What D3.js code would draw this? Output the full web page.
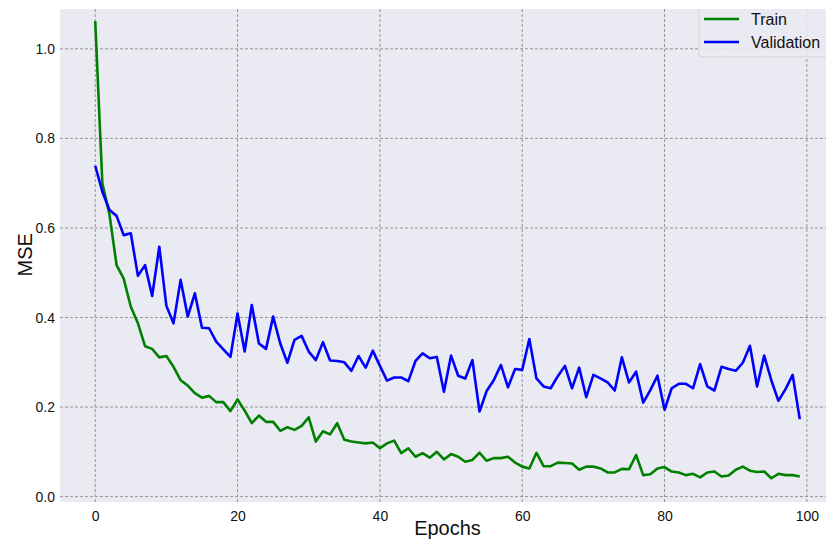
<!DOCTYPE html>
<html>
<head>
<meta charset="utf-8">
<script src="https://cdn.jsdelivr.net/npm/d3@7"></script>
<style>
  body { margin: 0; background: #fff; }
  svg { display: block; font-family: 'Liberation Sans', Arial, sans-serif; }
</style>
</head>
<body>
<svg id="chart"></svg>
<script>
const trainLoss = [
  1.062, 0.70, 0.63, 0.517, 0.487, 0.424, 0.387, 0.336, 0.330, 0.311,
  0.314, 0.290, 0.260, 0.248, 0.231, 0.221, 0.225, 0.211, 0.211, 0.191,
  0.217, 0.192, 0.164, 0.181, 0.167, 0.167, 0.147, 0.155, 0.149, 0.158,
  0.177, 0.123, 0.146, 0.139, 0.164, 0.127, 0.123, 0.121, 0.119, 0.121,
  0.108, 0.119, 0.125, 0.097, 0.108, 0.089, 0.097, 0.087, 0.100, 0.083,
  0.095, 0.089, 0.078, 0.082, 0.098, 0.080, 0.086, 0.086, 0.089, 0.076,
  0.067, 0.063, 0.098, 0.068, 0.068, 0.076, 0.075, 0.074, 0.060, 0.067,
  0.067, 0.063, 0.054, 0.054, 0.062, 0.061, 0.093, 0.048, 0.050, 0.063,
  0.066, 0.056, 0.054, 0.048, 0.051, 0.043, 0.054, 0.056, 0.045, 0.047,
  0.060, 0.067, 0.058, 0.055, 0.056, 0.041, 0.051, 0.048, 0.048, 0.045
]
const valLoss = [
  0.739, 0.681, 0.640, 0.627, 0.584, 0.588, 0.493, 0.517, 0.448, 0.558,
  0.426, 0.387, 0.484, 0.402, 0.454, 0.377, 0.376, 0.346, 0.329, 0.312,
  0.409, 0.324, 0.428, 0.342, 0.330, 0.402, 0.342, 0.299, 0.350, 0.359,
  0.324, 0.305, 0.345, 0.304, 0.303, 0.300, 0.281, 0.314, 0.288, 0.326,
  0.292, 0.259, 0.266, 0.266, 0.258, 0.303, 0.320, 0.309, 0.312, 0.234,
  0.315, 0.270, 0.264, 0.305, 0.190, 0.236, 0.260, 0.294, 0.244, 0.285,
  0.283, 0.352, 0.264, 0.246, 0.242, 0.269, 0.292, 0.242, 0.288, 0.222,
  0.272, 0.264, 0.255, 0.237, 0.311, 0.255, 0.279, 0.210, 0.238, 0.270,
  0.194, 0.242, 0.252, 0.252, 0.242, 0.296, 0.246, 0.237, 0.290, 0.285,
  0.281, 0.299, 0.337, 0.246, 0.315, 0.260, 0.214, 0.240, 0.272, 0.173
]
const xTicks = [0, 20, 40, 60, 80, 100]
const yTicks = [0.0, 0.2, 0.4, 0.6, 0.8, 1.0]
const seriesNames = ['Train', 'Validation']
const seriesColors = ['#008000', '#0000ff']

const width = 826
const height = 543
const margin = { top: 9, right: -9, bottom: 41, left: 60 }
const innerW = width - margin.left - margin.right
const innerH = height - margin.top - margin.bottom

const svg = d3.select('#chart')
  .attr('width', width)
  .attr('height', height)

const x = d3.scaleLinear()
  .domain([-4.95, 103.95])
  .range([margin.left, margin.left + innerW])
const y = d3.scaleLinear()
  .domain([-0.012, 1.089])
  .range([margin.top + innerH, margin.top])

svg.append('defs').append('clipPath')
  .attr('id', 'plot-clip')
  .append('rect')
  .attr('x', margin.left)
  .attr('y', margin.top)
  .attr('width', innerW)
  .attr('height', innerH)

// 背景
svg.append('rect')
  .attr('x', margin.left)
  .attr('y', margin.top)
  .attr('width', innerW)
  .attr('height', innerH)
  .attr('fill', '#eaeaf2')

// 格線
const grid = svg.append('g').attr('clip-path', 'url(#plot-clip)')
grid.selectAll('.vgrid')
  .data(xTicks)
  .enter()
  .append('line')
  .attr('x1', d => x(d)).attr('x2', d => x(d))
  .attr('y1', margin.top).attr('y2', margin.top + innerH)
  .attr('stroke', '#959595')
  .attr('stroke-width', 1)
  .attr('stroke-dasharray', '3,2')
grid.selectAll('.hgrid')
  .data(yTicks)
  .enter()
  .append('line')
  .attr('x1', margin.left).attr('x2', margin.left + innerW)
  .attr('y1', d => y(d)).attr('y2', d => y(d))
  .attr('stroke', '#959595')
  .attr('stroke-width', 1)
  .attr('stroke-dasharray', '3,2')

// 軸
const xAxis = svg.append('g')
  .attr('transform', `translate(0,${margin.top + innerH})`)
  .call(d3.axisBottom(x).tickValues(xTicks).tickSize(0).tickPadding(9).tickFormat(d3.format('d')))
const yAxis = svg.append('g')
  .attr('transform', `translate(${margin.left},0)`)
  .call(d3.axisLeft(y).tickValues(yTicks).tickSize(0).tickPadding(5).tickFormat(d3.format('.1f')))
;[xAxis, yAxis].forEach(a => {
  a.select('.domain').remove()
  a.selectAll('text')
    .attr('fill', '#111')
    .style('font-size', '14px')
    .style('font-family', "'Liberation Sans', Arial, sans-serif")
})

svg.append('text')
  .attr('x', x(49.5))
  .attr('y', 535)
  .attr('text-anchor', 'middle')
  .attr('fill', '#111')
  .style('font-size', '20px')
  .text('Epochs')
svg.append('text')
  .attr('transform', `translate(32,${y(0.54)}) rotate(-90)`)
  .attr('text-anchor', 'middle')
  .attr('fill', '#111')
  .style('font-size', '20px')
  .text('MSE')

// 折線
const line = d3.line()
  .x((d, i) => x(i))
  .y(d => y(d))

const plot = svg.append('g').attr('clip-path', 'url(#plot-clip)')
;[trainLoss, valLoss].forEach((series, k) => {
  plot.append('path')
    .datum(series)
    .attr('fill', 'none')
    .attr('stroke', seriesColors[k])
    .attr('stroke-width', 2.6)
    .attr('stroke-linejoin', 'round')
    .attr('d', line)
})

// 圖例
const legend = plot.append('g')
legend.append('rect')
  .attr('x', 699)
  .attr('y', 0)
  .attr('width', 140)
  .attr('height', 57)
  .attr('rx', 3)
  .attr('fill', '#eaeaf2')
  .attr('fill-opacity', 0.85)
  .attr('stroke', '#d4d4d8')
  .attr('stroke-width', 1)
seriesNames.forEach((name, k) => {
  const ly = 19 + k * 23
  legend.append('line')
    .attr('x1', 704).attr('x2', 739)
    .attr('y1', ly).attr('y2', ly)
    .attr('stroke', seriesColors[k])
    .attr('stroke-width', 2.6)
  legend.append('text')
    .attr('x', 751)
    .attr('y', ly + 6)
    .attr('fill', '#111')
    .style('font-size', '16px')
    .text(name)
})
</script>
</body>
</html>
